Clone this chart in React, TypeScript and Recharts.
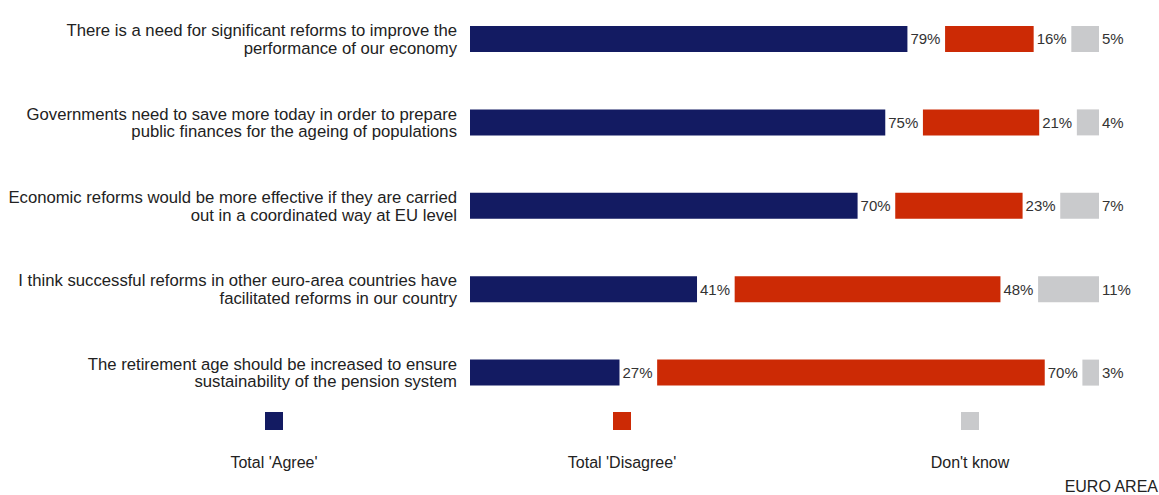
import React from 'react';
import { BarChart, Bar, XAxis, YAxis, LabelList, Legend } from 'recharts';

const questions = [
  ['There is a need for significant reforms to improve the', 'performance of our economy'],
  ['Governments need to save more today in order to prepare', 'public finances for the ageing of populations'],
  ['Economic reforms would be more effective if they are carried', 'out in a coordinated way at EU level'],
  ['I think successful reforms in other euro-area countries have', 'facilitated reforms in our country'],
  ['The retirement age should be increased to ensure', 'sustainability of the pension system'],
];
const agree = [79, 75, 70, 41, 27];
const disagree = [16, 21, 23, 48, 70];
const dontKnow = [5, 4, 7, 11, 3];

const seriesNames = ["Total 'Agree'", "Total 'Disagree'", "Don't know"];
const COLORS = ['#131b62', '#cc2a05', '#c9cacc'];

// spacer between segments, leaves room for the value labels
const GAP = 6.8;

const data = questions.map((q, i) => ({
  q: q.join('|'),
  agree: agree[i],
  gap1: GAP,
  disagree: disagree[i],
  gap2: GAP,
  dontKnow: dontKnow[i],
}));

const FONT = '"Liberation Sans", Arial, sans-serif';

const QuestionTick = (props: any) => {
  const { x, y, payload } = props;
  const lines: string[] = String(payload.value).split('|');
  return (
    <text x={x} y={y} textAnchor="end" fill="#222" fontSize={16.7} fontFamily={FONT}>
      <tspan x={x} dy={-2.5}>{lines[0]}</tspan>
      <tspan x={x} dy={17.5}>{lines[1]}</tspan>
    </text>
  );
};

const centers = [274, 622, 970];

const LegendContent = () => (
  <div style={{ position: 'relative', width: 1159, height: 70, fontFamily: FONT }}>
    {seriesNames.map((name, i) => (
      <div key={name} style={{ position: 'absolute', left: centers[i] - 100, width: 200, top: 0, textAlign: 'center' }}>
        <div style={{ width: 18, height: 18, background: COLORS[i], margin: '0 auto' }} />
        <div style={{ marginTop: 24, fontSize: 16, lineHeight: '18px', color: '#222' }}>{name}</div>
      </div>
    ))}
  </div>
);

const pct = (v: any) => `${v}%`;

export default function App() {
  return (
    <div style={{ position: 'absolute', left: 0, top: 0, width: 1159, height: 495, background: '#fff', overflow: 'hidden' }}>
      <div style={{ position: 'absolute', left: 0, top: -3 }}>
        <BarChart
          width={1159}
          height={498}
          data={data}
          layout="vertical"
          margin={{ top: 0, right: 60, bottom: 11, left: 0 }}
          barSize={26}
        >
          <XAxis type="number" domain={[0, 100 + 2 * GAP]} hide />
          <YAxis
            type="category"
            dataKey="q"
            width={470}
            axisLine={false}
            tickLine={false}
            tickSize={0}
            tickMargin={13}
            tick={<QuestionTick />}
            interval={0}
          />
          <Legend content={<LegendContent />} verticalAlign="bottom" wrapperStyle={{ left: 0, top: 415, width: 1159 }} />
          <Bar dataKey="agree" stackId="s" fill={COLORS[0]} isAnimationActive={false} legendType="none">
            <LabelList dataKey="agree" position="right" offset={3} formatter={pct} fill="#333" fontSize={15} fontFamily={FONT} />
          </Bar>
          <Bar dataKey="gap1" stackId="s" fill="transparent" isAnimationActive={false} legendType="none" />
          <Bar dataKey="disagree" stackId="s" fill={COLORS[1]} isAnimationActive={false} legendType="none">
            <LabelList dataKey="disagree" position="right" offset={3} formatter={pct} fill="#333" fontSize={15} fontFamily={FONT} />
          </Bar>
          <Bar dataKey="gap2" stackId="s" fill="transparent" isAnimationActive={false} legendType="none" />
          <Bar dataKey="dontKnow" stackId="s" fill={COLORS[2]} isAnimationActive={false} legendType="none">
            <LabelList dataKey="dontKnow" position="right" offset={3} formatter={pct} fill="#333" fontSize={15} fontFamily={FONT} />
          </Bar>
        </BarChart>
      </div>
      <div style={{ position: 'absolute', right: 1, top: 478, fontFamily: FONT, fontSize: 16, lineHeight: '18px', color: '#222' }}>
        EURO AREA
      </div>
    </div>
  );
}
